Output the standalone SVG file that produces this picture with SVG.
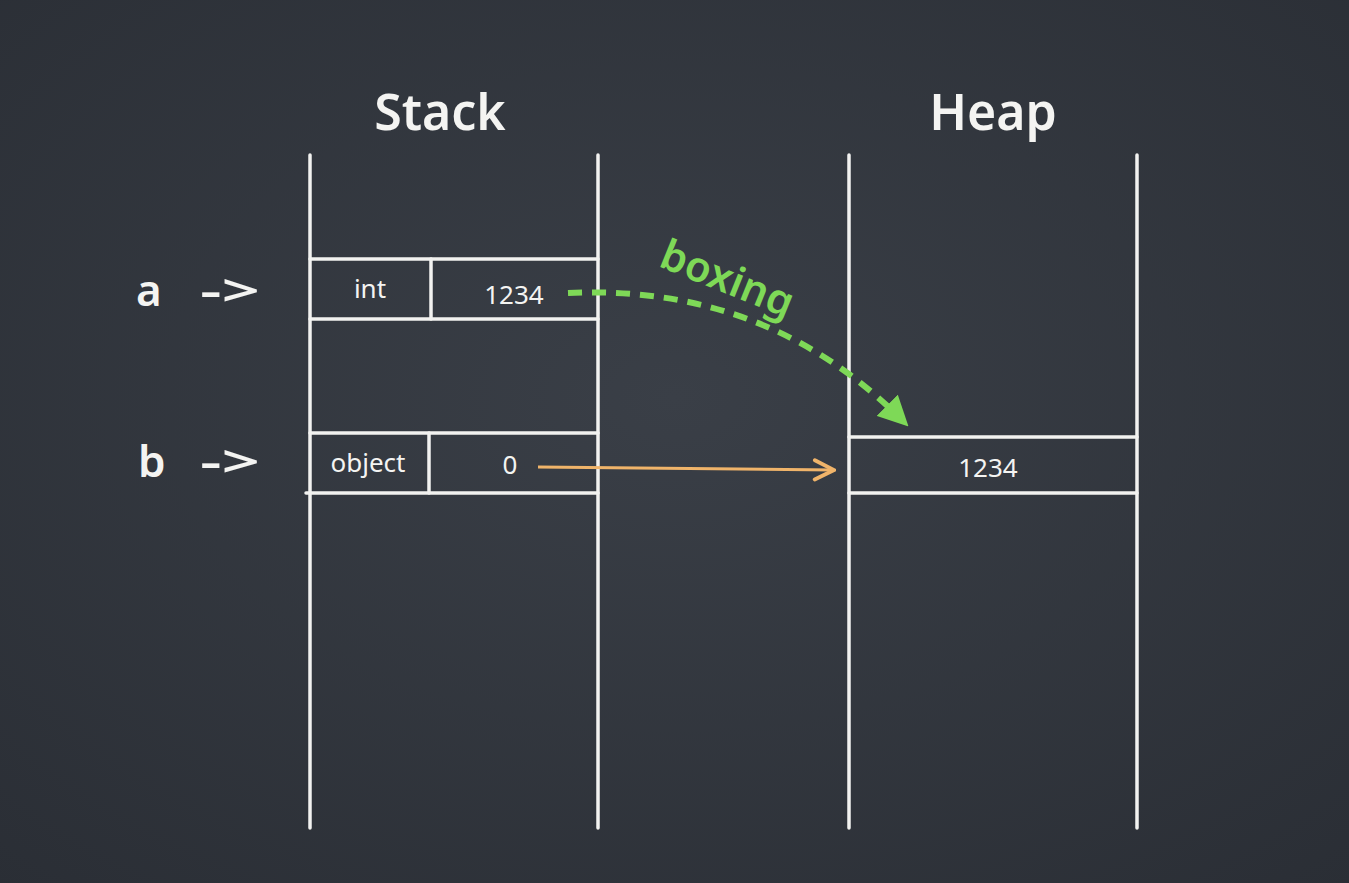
<svg xmlns="http://www.w3.org/2000/svg" width="1349" height="883" viewBox="0 0 1349 883">
<defs>
<style>
.ln{stroke:#f2f2f0;stroke-width:3.5;fill:none;stroke-linecap:round}
.t{fill:#f4f4f2;font-family:"Noto Sans","DejaVu Sans",sans-serif;text-anchor:middle}
.h{font-size:50px;font-weight:600}
.v{font-size:44px;font-weight:600;text-anchor:start}
.c{font-size:26px}
</style>
<radialGradient id="bg" cx="0.5" cy="0.45" r="0.75">
<stop offset="0" stop-color="#3a3f47"/>
<stop offset="1" stop-color="#2a2e35"/>
</radialGradient>
<marker id="ga" viewBox="0 0 10 10" refX="6" refY="5" markerWidth="5" markerHeight="5" orient="auto" markerUnits="strokeWidth">
<path d="M0,0 L10,5 L0,10 z" fill="#7ed957"/>
</marker>
<marker id="oa" viewBox="0 0 10 10" refX="9" refY="5" markerWidth="8" markerHeight="8" orient="auto" markerUnits="strokeWidth">
<path d="M1,1 L9,5 L1,9" fill="none" stroke="#f0b46a" stroke-width="1.6" stroke-linecap="round"/>
</marker>
</defs>
<rect width="1349" height="883" fill="url(#bg)"/>
<g id="stack">
<text class="t h" x="440" y="130">Stack</text>
<line class="ln" x1="310" y1="155" x2="310" y2="828"/>
<line class="ln" x1="598" y1="155" x2="598" y2="828"/>
</g>
<g id="heap">
<text class="t h" x="993" y="130">Heap</text>
<line class="ln" x1="849" y1="155" x2="849" y2="828"/>
<line class="ln" x1="1137" y1="155" x2="1137" y2="828"/>
</g>
<g id="var-a">
<text class="t v" x="136" y="306">a<tspan x="200" textLength="60" lengthAdjust="spacingAndGlyphs">-&gt;</tspan></text>
</g>
<g id="var-b">
<text class="t v" x="138" y="477">b<tspan x="200" textLength="60" lengthAdjust="spacingAndGlyphs">-&gt;</tspan></text>
</g>
<g id="slot-a">
<line class="ln" x1="310" y1="259" x2="598" y2="259"/>
<line class="ln" x1="310" y1="319" x2="598" y2="319"/>
<line class="ln" x1="431" y1="259" x2="431" y2="319"/>
<text class="t c" x="370" y="298">int</text>
<text class="t c" x="514" y="304">1234</text>
</g>
<g id="slot-b">
<line class="ln" x1="310" y1="433" x2="598" y2="433"/>
<line class="ln" x1="306" y1="493" x2="598" y2="493"/>
<line class="ln" x1="429" y1="433" x2="429" y2="493"/>
<text class="t c" x="368" y="472">object</text>
<text class="t c" x="510" y="474">0</text>
</g>
<g id="heap-obj">
<line class="ln" x1="849" y1="437" x2="1137" y2="437"/>
<line class="ln" x1="849" y1="493" x2="1137" y2="493"/>
<text class="t c" x="988" y="477">1234</text>
</g>
<g id="connectors">
<path d="M568 293 Q 765 284 900 418" fill="none" stroke="#7ed957" stroke-width="6" stroke-dasharray="14 10" marker-end="url(#ga)"/>
<text x="722" y="292" font-size="42" font-weight="600" fill="#7ed957" font-family="Noto Sans,DejaVu Sans,sans-serif" text-anchor="middle" transform="rotate(22 722 292)">boxing</text>
<line x1="538" y1="467" x2="834" y2="470" stroke="#f0b46a" stroke-width="3" marker-end="url(#oa)"/>
</g>
</svg>
